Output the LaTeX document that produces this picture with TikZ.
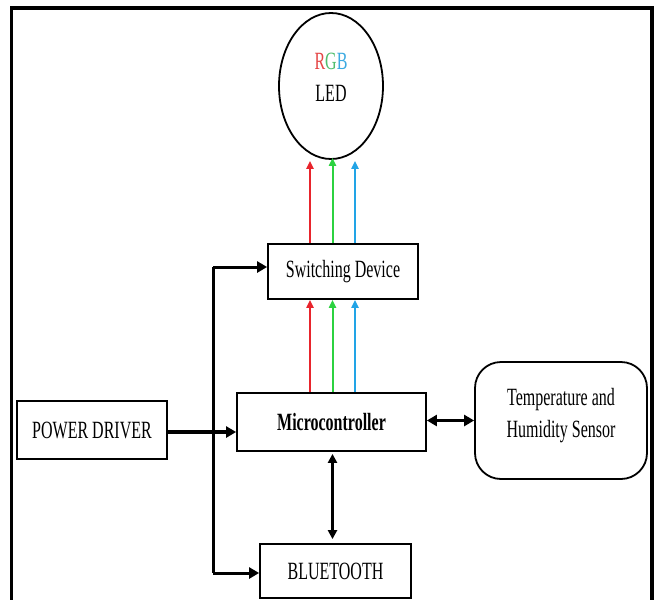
\documentclass[tikz,border=0pt]{standalone}
\usepackage{graphicx}
\usepackage{fontspec}
\setmainfont{Liberation Serif}
\usetikzlibrary{arrows.meta,shapes.geometric,calc}
\definecolor{cR}{RGB}{232,36,44}
\definecolor{cG}{RGB}{44,210,64}
\definecolor{cB}{RGB}{34,164,230}
\definecolor{tR}{RGB}{228,70,70}
\definecolor{tG}{RGB}{80,190,110}
\definecolor{tB}{RGB}{60,170,225}
\newcommand{\stx}[1]{\scalebox{1}[1.55]{#1}}
\begin{document}
\begin{tikzpicture}[x=1pt,y=-1pt,
  box/.style={draw,line width=1.8pt,rectangle,inner sep=0pt,font=\fontsize{16}{20.6}\selectfont},
  rbox/.style={box,rounded corners=26pt},
  bigarr/.style={line width=3.6pt,-{Triangle[length=10pt,width=11pt]}},
  midarr/.style={line width=3pt,-{Triangle[length=10pt,width=11pt]}},
  dblarr/.style={line width=2.4pt,{Triangle[length=9pt,width=9pt]}-{Triangle[length=9pt,width=9pt]}},
  dblthick/.style={line width=3.6pt,{Triangle[length=10pt,width=11pt]}-{Triangle[length=10pt,width=11pt]}},
  carr/.style={line width=2pt,-{Triangle[length=8pt,width=7pt]}},
  txt/.style={font=\fontsize{16}{20.6}\selectfont,inner sep=0pt,align=center}]
\useasboundingbox (0,0) rectangle (654,600);
% outer frame
\draw[line width=3.5pt] (11.5,640) -- (11.5,8) -- (652,8) -- (652,640);
% nodes
\node[draw,ellipse,line width=1.8pt,minimum width=104pt,minimum height=146pt,inner sep=0pt] (led) at (331,86) {};
\node[txt] (ledtxt) at (331,79) {\stx{\begin{tabular}{@{}c@{}}{\color{tR}R}{\color{tG}G}{\color{tB}B}\\LED\end{tabular}}};
\node[box,minimum width=150pt,minimum height=55pt] (sw) at (343,271.5) {\stx{Switching Device}};
\node[box,minimum width=189pt,minimum height=58pt] (mc) at (331.5,422) {\stx{\textbf{Microcontroller}}};
\node[box,minimum width=150pt,minimum height=58pt] (pd) at (92,430) {\stx{POWER DRIVER}};
\node[rbox,minimum width=172pt,minimum height=117pt] (th) at (561,420.5) {};
\node[txt] (thtxt) at (561,415) {\stx{\begin{tabular}{@{}c@{}}Temperature and\\Humidity Sensor\end{tabular}}};
\node[box,minimum width=151pt,minimum height=54pt] (bt) at (335.5,571) {\stx{BLUETOOTH}};
% helper coordinates
\coordinate (xr) at (310,0);
\coordinate (xg) at (332.5,0);
\coordinate (xb) at (355,0);
\coordinate (j1) at (213,267);
\coordinate (j2) at (213,573);
% RGB arrows
\draw[carr,cR] (sw.north -| xr) -- ([yshift=-1pt]led.south -| xr);
\draw[carr,cG] (sw.north -| xg) -- ([yshift=2pt]led.south -| xg);
\draw[carr,cB] (sw.north -| xb) -- ([yshift=-1pt]led.south -| xb);
\draw[carr,cR] (mc.north -| xr) -- (sw.south -| xr);
\draw[carr,cG] (mc.north -| xg) -- (sw.south -| xg);
\draw[carr,cB] (mc.north -| xb) -- (sw.south -| xb);
% power connections
\draw[line width=3pt] (j1) -- (j2);
\draw[midarr] (j1) -- (j1 -| sw.west);
\draw[midarr] (j2) -- (j2 -| bt.west);
\draw[bigarr] ([yshift=-2pt]pd.east) -- ([yshift=-2pt]pd.east -| mc.west);
% bidirectional
\draw[dblthick] (mc.east |- th.west) -- (th.west);
\draw[dblarr,shorten <=2pt,shorten >=4pt] (mc.south -| xg) -- (bt.north -| xg);
\end{tikzpicture}
\end{document}
